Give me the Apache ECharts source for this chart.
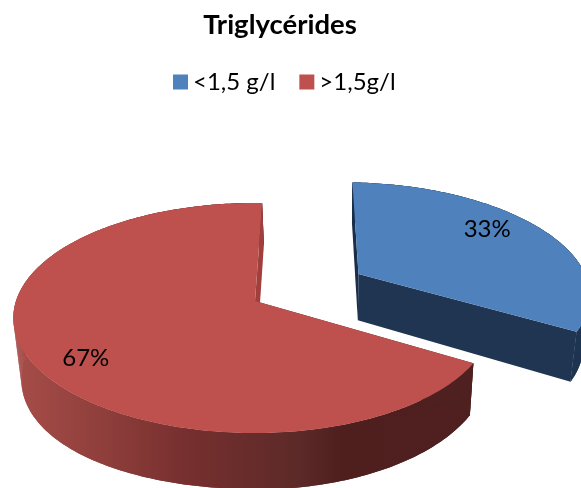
<!DOCTYPE html>
<html><head><meta charset="utf-8">
<style>html,body{margin:0;padding:0;background:#fff}#c{width:581px;height:488px}</style>
<script src="https://cdn.jsdelivr.net/npm/echarts@6/dist/echarts.min.js"></script>
</head><body><div id="c"></div>
<script>
const titleText = 'Triglycérides';
const categories = ['<1,5 g/l', '>1,5g/l'];
const values = [33, 67];
const topColors = ['#4F81BD', '#BE504D'];
const sideColors = ['#1F3552', null];
const cutColors = ['#1A2E49', '#A03F3C'];
const labelRadius = [0.78, 0.81];

// projection of the tilted pie plane
const P = {cx: 255, cy: 301, RL: 239, RR: 235, k: 112.5, persp: 0.148, depth: 48, x0: 332, shrink: 0.975,
           rot: 2, explode: [0.52, 0], labelShift: -7, leftDepth: 0.25};
const total = values.reduce((a, b) => a + b, 0);
function project(X, Y) {
  const w = 1 - P.persp * Y;
  return [P.cx + (X < 0 ? P.RL : P.RR) * X / w, P.cy + P.k * Y / w];
}
function lower(X, Y) {
  const w = 1 - P.persp * Y, p = project(X, Y);
  const depth = P.depth * (X < 0 ? 1 + P.leftDepth * X * X : 1);
  return [P.x0 + (p[0] - P.x0) * P.shrink, p[1] + depth / w];
}
function unit(deg) { const a = deg * Math.PI / 180; return [Math.sin(a), -Math.cos(a)]; }

function sideShade() {
  return new echarts.graphic.LinearGradient(0, 0, 581, 0, [
    {offset: 20 / 581, color: '#A54C48'}, {offset: 100 / 581, color: '#903F3C'}, {offset: 190 / 581, color: '#752F2E'},
    {offset: 300 / 581, color: '#5C2A28'}, {offset: 340 / 581, color: '#4F1F1E'}, {offset: 1, color: '#4E201F'}], true);
}

function sliceRenderer(idx) {
  return function (params, api) {
    const v = api.value(0);
    let before = 0;
    for (let i = 0; i < idx; i++) before += values[i];
    const a0 = P.rot + before / total * 360, a1 = a0 + v / total * 360, mid = (a0 + a1) / 2;
    const d = unit(mid), ex = P.explode[idx];
    const C = [d[0] * ex, d[1] * ex];
    const rim = [];
    const steps = Math.ceil(a1 - a0);
    for (let s = 0; s <= steps; s++) {
      const u = unit(a0 + (a1 - a0) * s / steps);
      rim.push([C[0] + u[0], C[1] + u[1]]);
    }
    const first = rim[0], last = rim[rim.length - 1];
    // the edge nearest the back of the pie shows a thin cut face, the other one faces front
    const backIsFirst = first[1] < last[1];
    const back = backIsFirst ? first : last, front = backIsFirst ? last : first;
    const poly = (pts, fill) => ({type: 'polygon', shape: {points: pts}, style: {fill: fill}, silent: true});
    const upperRim = rim.map(q => project(q[0], q[1]));
    const lowerRim = rim.map(q => lower(q[0], q[1]));
    const fill = () => sideColors[idx] || sideShade();
    const children = [poly(upperRim.concat(lowerRim.slice().reverse()), fill())];
    for (let s = 0; s < steps; s++) {
      children.push(poly([upperRim[s], upperRim[s + 1], lowerRim[s + 1], lowerRim[s]], fill()));
    }
    children.push(poly([project(C[0], C[1]), project(front[0], front[1]), lower(front[0], front[1]), lower(C[0], C[1])], sideColors[idx] || '#4E201F'));
    children.push(poly([project(C[0], C[1]), project(back[0], back[1]), lower(back[0], back[1]), lower(C[0], C[1])], cutColors[idx]));
    children.push(poly([project(C[0], C[1])].concat(upperRim), topColors[idx]));
    const lu = unit(mid + P.labelShift), r = labelRadius[idx];
    const lp = project(C[0] + lu[0] * r, C[1] + lu[1] * r);
    children.push({type: 'text', silent: true, style: {
      text: Math.round(v / total * 100) + '%', x: lp[0], y: lp[1], fill: '#000',
      font: '24px Lato', textAlign: 'center', textVerticalAlign: 'middle'}});
    return {type: 'group', children};
  };
}

const chart = echarts.init(document.getElementById('c'), null, {renderer: 'canvas'});
chart.setOption({
  animation: false,
  backgroundColor: '#fff',
  title: {text: titleText, left: 275, top: 6, textAlign: 'center',
    textStyle: {fontFamily: 'Lato', fontWeight: 'bold', fontSize: 27.5, color: '#000'}},
  legend: {data: categories, top: 70, left: 173, icon: 'rect', itemWidth: 15, itemHeight: 15, itemGap: 24,
    textStyle: {fontFamily: 'Lato', fontSize: 24, color: '#000'}, selectedMode: false, padding: 0},
  series: categories.map((name, i) => ({
    type: 'custom', name, coordinateSystem: 'none', silent: true,
    itemStyle: {color: topColors[i]},
    data: [values[i]],
    renderItem: sliceRenderer(i)
  }))
});
</script></body></html>
